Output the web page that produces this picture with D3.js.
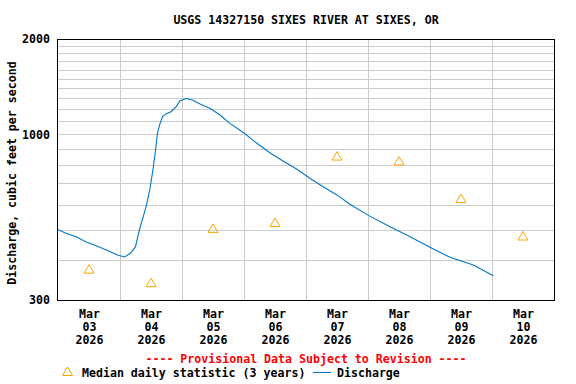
<!DOCTYPE html>
<html>
<meta charset="utf-8">
<script src="https://d3js.org/d3.v7.min.js"></script>
<style>
  body { margin: 0; background: #fff; }
  text { font-family: "DejaVu Sans Mono", monospace; font-weight: bold; font-size: 11.6px; }
</style>
<div id="chart"></div>
<script>

// discharge readings (cfs)
var dischargeTimes = [
  "03T00:00", "03T03:00", "03T07:00", "03T10:45", "03T14:45", "03T18:30", "03T23:00",
  "04T01:45", "04T04:15", "04T06:00", "04T07:30", "04T09:00", "04T10:15", "04T11:30",
  "04T12:45", "04T13:45", "04T14:30", "04T15:30", "04T16:30", "04T17:45", "04T19:45",
  "04T21:45", "04T23:15", "05T01:45", "05T04:00", "05T07:00", "05T10:45", "05T14:45",
  "05T18:30", "06T00:00", "06T05:00", "06T10:00", "06T15:15", "06T20:30", "07T01:30",
  "07T06:45", "07T12:00", "07T17:00", "08T00:00", "08T08:30", "08T15:00", "09T00:00",
  "09T07:45", "09T16:45", "10T00:30"
];
var dischargeValues = [
  501, 487, 475, 458, 445, 432, 416,
  410, 423, 442, 499, 550, 598, 667,
  772, 892, 1008, 1083, 1137, 1160, 1179,
  1223, 1277, 1298, 1283, 1247, 1209, 1151,
  1083, 1010, 937, 875, 823, 776, 727,
  682, 644, 602, 556, 511, 481, 440,
  409, 387, 358
];

// median daily statistic, plotted at noon
var medianDays = ["03", "04", "05", "06", "07", "08", "09", "10"];
var medianValues = [374, 339, 503, 525, 851, 821, 625, 476];

var yTicks = [300, 1000, 2000];
var yGrid = [400, 500, 600, 700, 800, 900, 1000, 1100, 1200, 1300, 1400, 1500, 1600, 1700, 1800, 1900];

var parse = d3.timeParse("%Y-%m-%dT%H:%M");
var discharge = dischargeTimes.map(function(t, i) {
  return { date: parse("2026-03-" + t), value: dischargeValues[i] };
});
var medians = medianDays.map(function(d, i) {
  return { date: parse("2026-03-" + d + "T12:00"), value: medianValues[i] };
});

var margin = {top: 39, right: 22, bottom: 84, left: 58},
    width = 576 - margin.left - margin.right,
    height = 384 - margin.top - margin.bottom;

var svg = d3.select("#chart")
  .append("svg")
    .attr("width", 576)
    .attr("height", 384);

var g = svg.append("g")
    .attr("transform", "translate(" + margin.left + "," + margin.top + ")");

var x = d3.scaleTime()
    .domain([parse("2026-03-03T00:00"), parse("2026-03-11T00:00")])
    .range([0, width]);

var y = d3.scaleLog()
    .domain([300, 2000])
    .range([height, 0]);

// grid
g.append("g")
  .selectAll("line")
  .data(yGrid)
  .enter()
  .append("line")
    .attr("x1", 0)
    .attr("x2", width)
    .attr("y1", function(d) { return Math.round(y(d)) + 0.5; })
    .attr("y2", function(d) { return Math.round(y(d)) + 0.5; })
    .attr("stroke", "#cccccc")
    .attr("stroke-width", 1);

g.append("g")
  .selectAll("line")
  .data(d3.timeDay.range(parse("2026-03-04T00:00"), parse("2026-03-11T00:00")))
  .enter()
  .append("line")
    .attr("x1", function(d) { return Math.round(x(d)) + 0.5; })
    .attr("x2", function(d) { return Math.round(x(d)) + 0.5; })
    .attr("y1", 0)
    .attr("y2", height)
    .attr("stroke", "#cccccc")
    .attr("stroke-width", 1);

// border
g.append("rect")
    .attr("x", -0.5)
    .attr("y", 0.5)
    .attr("width", width + 1)
    .attr("height", height)
    .attr("fill", "none")
    .attr("stroke", "#000");

// y axis
var yAxis = g.append("g")
    .call(d3.axisLeft(y).tickValues(yTicks).tickSize(0).tickPadding(8).tickFormat(d3.format("d")));
yAxis.select(".domain").remove();
yAxis.selectAll("text")
    .attr("fill", "#000")
    .style("font-size", "11.6px")
    .style("font-family", "DejaVu Sans Mono, monospace");

// y label
svg.append("text")
    .attr("transform", "translate(16,173) rotate(-90)")
    .attr("text-anchor", "middle")
    .text("Discharge, cubic feet per second");

// x axis
var xAxis = g.append("g")
    .attr("transform", "translate(0," + height + ")")
    .call(d3.axisBottom(x).tickValues(medians.map(function(d) { return d.date; })).tickSize(0).tickFormat(""));
xAxis.select(".domain").remove();
xAxis.selectAll(".tick").each(function(d) {
  var t = d3.select(this).append("text")
      .attr("fill", "#000")
      .attr("text-anchor", "middle")
      .style("font-size", "11.6px")
      .style("font-family", "DejaVu Sans Mono, monospace");
  [d3.timeFormat("%b")(d), d3.timeFormat("%d")(d), d3.timeFormat("%Y")(d)].forEach(function(s, i) {
    t.append("tspan").attr("x", 0).attr("y", 18 + i * 13).text(s);
  });
});

// discharge line
var line = d3.line()
    .x(function(d) { return x(d.date); })
    .y(function(d) { return y(d.value); });

g.append("path")
    .datum(discharge)
    .attr("d", line)
    .attr("fill", "none")
    .attr("stroke", "#0077cc")
    .attr("stroke-width", 1.1);

// median triangles
var tri = "M0,-5 L5,3.5 L-5,3.5 Z";
g.append("g")
  .selectAll("path")
  .data(medians)
  .enter()
  .append("path")
    .attr("d", tri)
    .attr("transform", function(d) { return "translate(" + x(d.date) + "," + y(d.value) + ")"; })
    .attr("fill", "none")
    .attr("stroke", "#ffa500")
    .attr("stroke-width", 1);

// title
svg.append("text")
    .attr("x", margin.left + width / 2)
    .attr("y", 24)
    .attr("text-anchor", "middle")
    .text("USGS 14327150 SIXES RIVER AT SIXES, OR");

// provisional
svg.append("text")
    .attr("x", margin.left + width / 2)
    .attr("y", 363)
    .attr("text-anchor", "middle")
    .attr("fill", "#ff0000")
    .text("---- Provisional Data Subject to Revision ----");

// legend
svg.append("path")
    .attr("d", tri)
    .attr("transform", "translate(67.5,372)")
    .attr("fill", "none")
    .attr("stroke", "#ffa500");
svg.append("text")
    .attr("x", 82)
    .attr("y", 376.5)
    .text("Median daily statistic (3 years)");
svg.append("line")
    .attr("x1", 313)
    .attr("x2", 331)
    .attr("y1", 372.5)
    .attr("y2", 372.5)
    .attr("stroke", "#0077cc")
    .attr("stroke-width", 1.1);
svg.append("text")
    .attr("x", 337)
    .attr("y", 376.5)
    .text("Discharge");

</script>
</html>
